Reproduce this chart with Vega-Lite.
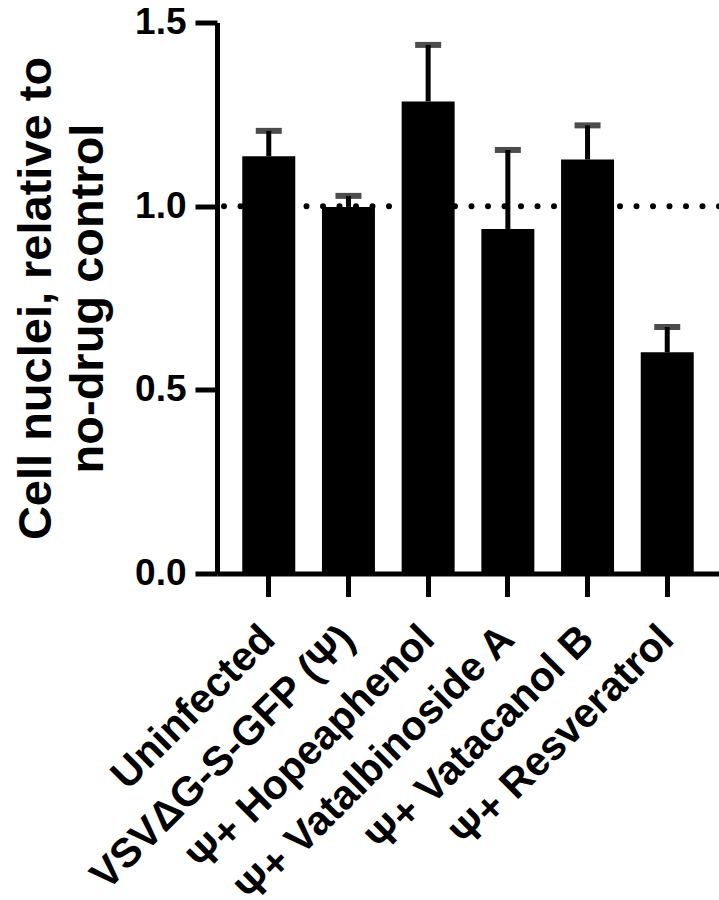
{
  "$schema": "https://vega.github.io/schema/vega-lite/v6.json",
  "width": 502,
  "height": 551,
  "autosize": {"type": "none"},
  "padding": {"left": 217, "top": 22.5, "right": 0, "bottom": 326.5},
  "config": {"view": {"stroke": null}, "font": "Liberation Sans", "background": "white"},
  "data": {
    "values": [
      {"group": "Uninfected", "value": 1.136, "upper": 1.205},
      {"group": "VSVΔG-S-GFP (Ψ)", "value": 0.998, "upper": 1.028},
      {"group": "Ψ+ Hopeaphenol", "value": 1.285, "upper": 1.439},
      {"group": "Ψ+ Vatalbinoside A", "value": 0.938, "upper": 1.153},
      {"group": "Ψ+ Vatacanol B", "value": 1.127, "upper": 1.22},
      {"group": "Ψ+ Resveratrol", "value": 0.602, "upper": 0.671}
    ]
  },
  "encoding": {
    "x": {
      "field": "group",
      "type": "nominal",
      "sort": null,
      "scale": {"paddingInner": 0.335, "paddingOuter": 0.317},
      "axis": {
        "title": null,
        "labelAngle": -45,
        "labelAlign": "right",
        "labelBaseline": "middle",
        "labelFontSize": 41,
        "labelFontWeight": "bold",
        "labelColor": "black",
        "labelPadding": 36,
        "labelLimit": 1000,
        "labelBound": false,
        "labelOverlap": false,
        "tickSize": 23,
        "tickWidth": 5,
        "tickColor": "black",
        "domainWidth": 5,
        "domainColor": "black"
      }
    }
  },
  "layer": [
    {
      "mark": {"type": "bar", "color": "black"},
      "encoding": {
        "y": {
          "field": "value",
          "type": "quantitative",
          "title": ["Cell nuclei, relative to", "no-drug control"],
          "scale": {"domain": [0, 1.5], "nice": false},
          "axis": {
            "values": [0, 0.5, 1, 1.5],
            "format": ".1f",
            "grid": false,
            "labelFontSize": 37,
            "labelFontWeight": "bold",
            "labelColor": "black",
            "labelPadding": 9,
            "tickSize": 22,
            "tickWidth": 5,
            "tickColor": "black",
            "domainWidth": 5,
            "domainColor": "black",
            "titleFontSize": 47,
            "titleFontWeight": "bold",
            "titleColor": "black",
            "titleLineHeight": 52,
            "titlePadding": 22
          }
        }
      }
    },
    {
      "mark": {"type": "rule", "color": "black", "strokeWidth": 5},
      "encoding": {
        "y": {"field": "value", "type": "quantitative", "title": ["Cell nuclei, relative to", "no-drug control"]},
        "y2": {"field": "upper"}
      }
    },
    {
      "mark": {"type": "tick", "color": "black", "size": 26, "thickness": 6},
      "encoding": {
        "y": {"field": "upper", "type": "quantitative", "title": ["Cell nuclei, relative to", "no-drug control"]}
      }
    },
    {
      "data": {"values": [{"ref": 1}]},
      "mark": {"type": "rule", "color": "black", "strokeWidth": 6, "strokeCap": "round", "strokeDash": [0, 16.5]},
      "encoding": {
        "x": null,
        "y": {"field": "ref", "type": "quantitative", "title": ["Cell nuclei, relative to", "no-drug control"]}
      }
    }
  ]
}
